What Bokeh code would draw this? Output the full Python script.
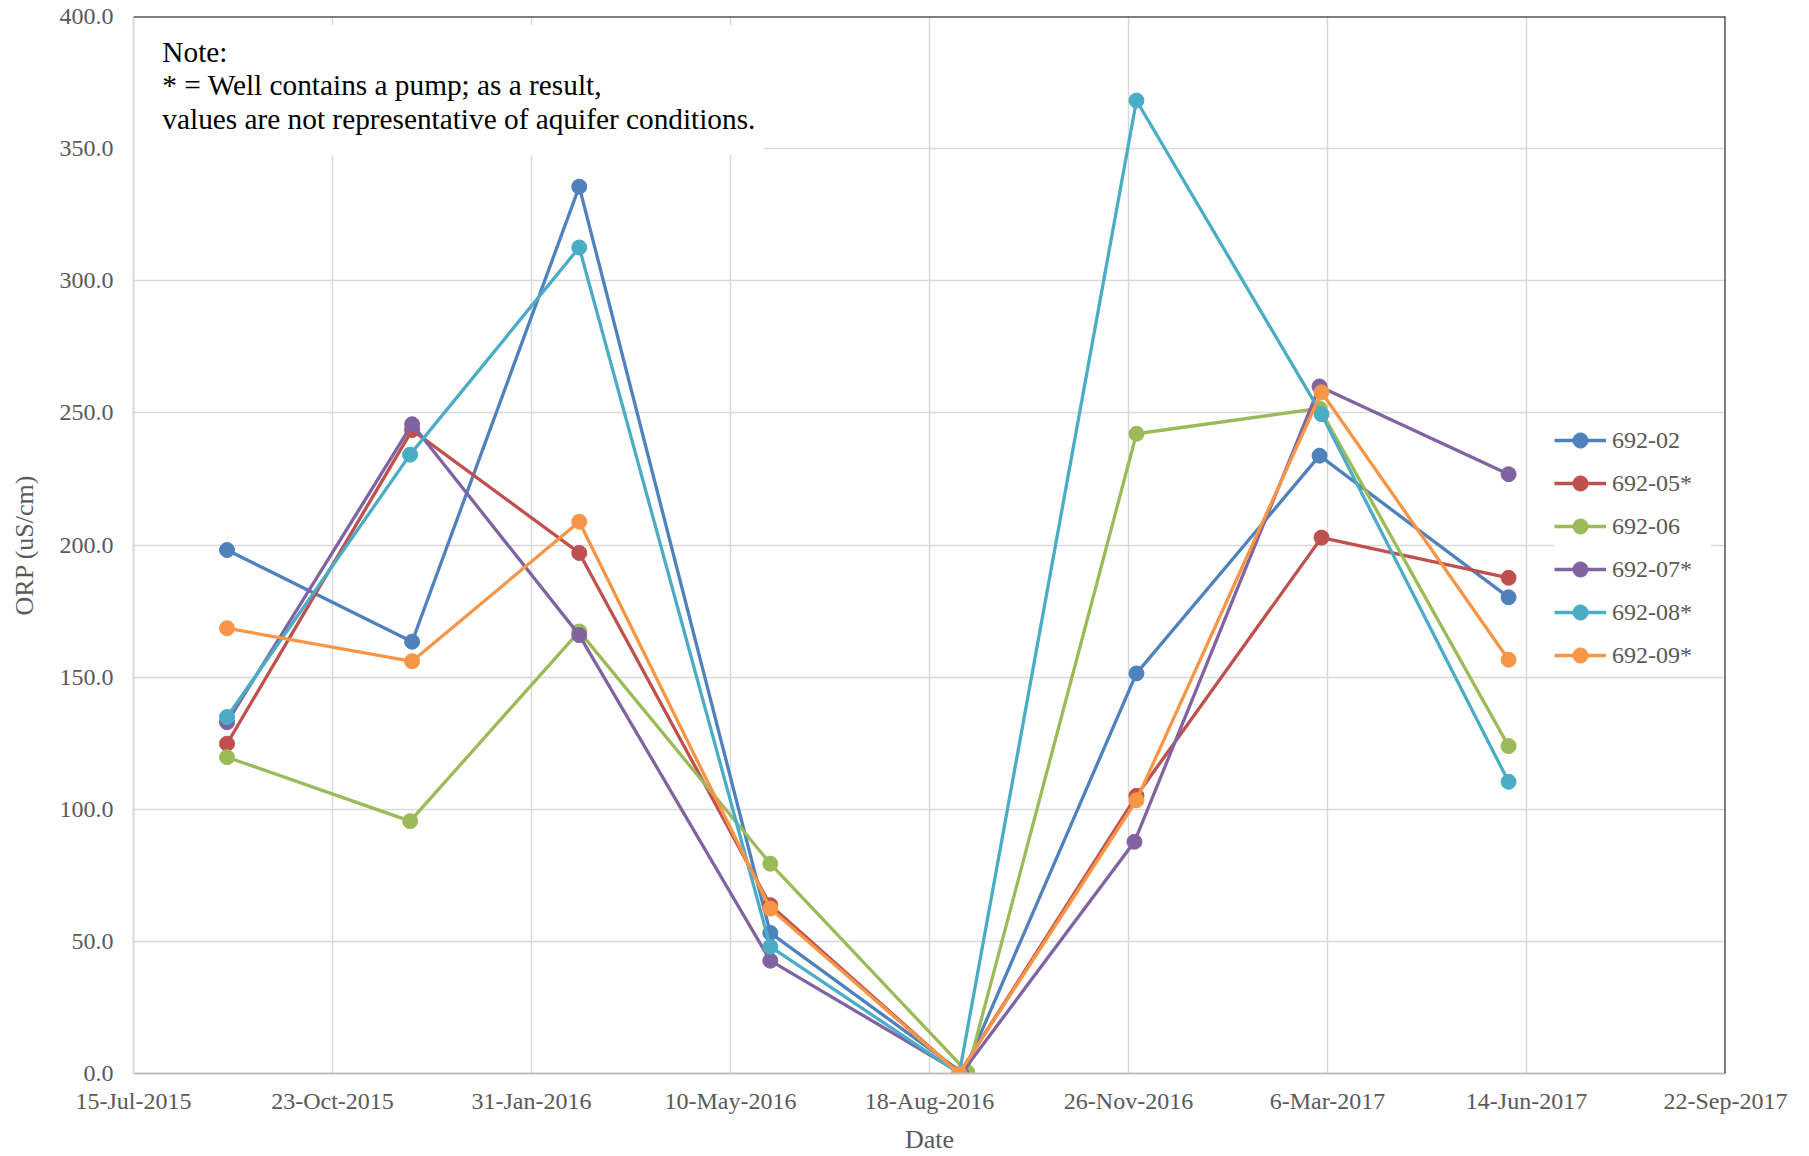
import pandas as pd
from bokeh.plotting import figure
from bokeh.models import (Range1d, FixedTicker, CustomJSTickFormatter, NumeralTickFormatter,
                          Legend, LegendItem, BoxAnnotation, Label, Span)
from bokeh.embed import file_html
from bokeh.resources import INLINE

# ---------------- data ----------------
series_names = ["692-02", "692-05*", "692-06", "692-07*", "692-08*", "692-09*"]
colors = ["#4F81BD", "#C0504D", "#9BBB59", "#8064A2", "#4BACC6", "#F79646"]

dates_02 = ["2015-08-31", "2015-12-02", "2016-02-24", "2016-05-30", "2016-09-04", "2016-11-30", "2017-03-02", "2017-06-05"]
dates_05 = ["2015-08-31", "2015-12-02", "2016-02-24", "2016-05-30", "2016-09-02", "2016-11-30", "2017-03-03", "2017-06-05"]
dates_06 = ["2015-08-31", "2015-12-01", "2016-02-24", "2016-05-30", "2016-09-06", "2016-11-30", "2017-03-02", "2017-06-05"]
dates_07 = ["2015-08-31", "2015-12-02", "2016-02-24", "2016-05-30", "2016-09-03", "2016-11-29", "2017-03-02", "2017-06-05"]
dates_08 = ["2015-08-31", "2015-12-01", "2016-02-24", "2016-05-30", "2016-09-02", "2016-11-30", "2017-03-03", "2017-06-05"]
dates_09 = ["2015-08-31", "2015-12-02", "2016-02-24", "2016-05-30", "2016-09-02", "2016-11-30", "2017-03-03", "2017-06-05"]

orp_02 = [198.1, 163.4, 335.6, 53.2, 0.0, 151.4, 233.8, 180.2]
orp_05 = [124.8, 243.5, 197.0, 63.7, 0.0, 105.1, 202.8, 187.6]
orp_06 = [119.7, 95.5, 167.3, 79.4, 0.5, 242.1, 251.7, 123.9]
orp_07 = [132.9, 245.7, 165.9, 42.7, 0.0, 87.7, 260.0, 226.8]
orp_08 = [134.9, 234.2, 312.6, 48.0, 0.0, 368.2, 249.5, 110.4]
orp_09 = [168.5, 156.0, 208.8, 62.4, 0.0, 103.4, 257.8, 156.6]

tick_dates = ["2015-07-15", "2015-10-23", "2016-01-31", "2016-05-10", "2016-08-18",
              "2016-11-26", "2017-03-06", "2017-06-14", "2017-09-22"]
y_ticks = [0, 50, 100, 150, 200, 250, 300, 350, 400]

note_lines = ["Note:",
              "* = Well contains a pump; as a result,",
              "values are not representative of aquifer conditions."]

all_dates = [dates_02, dates_05, dates_06, dates_07, dates_08, dates_09]
all_vals = [orp_02, orp_05, orp_06, orp_07, orp_08, orp_09]

# ---------------- figure ----------------
FONT = "Liberation Serif"
GRAY_TXT = "#595959"

x_start = pd.Timestamp(tick_dates[0])
x_end = pd.Timestamp(tick_dates[-1])

p = figure(width=1809, height=1156, x_axis_type="datetime",
           x_range=Range1d(x_start, x_end), y_range=Range1d(0, 400),
           output_backend="svg", toolbar_location=None,
           min_border_left=133, min_border_right=84, min_border_top=16, min_border_bottom=82)
p.outline_line_color = None
p.background_fill_color = "white"
p.border_fill_color = "white"

tick_ms = [pd.Timestamp(d).value / 1e6 for d in tick_dates]
p.xaxis.ticker = FixedTicker(ticks=tick_ms)
p.xaxis.formatter = CustomJSTickFormatter(code="""
const d = new Date(tick);
const m = ["Jan","Feb","Mar","Apr","May","Jun","Jul","Aug","Sep","Oct","Nov","Dec"][d.getUTCMonth()];
return d.getUTCDate() + "-" + m + "-" + d.getUTCFullYear();
""")
p.yaxis.ticker = FixedTicker(ticks=y_ticks)
p.yaxis.formatter = NumeralTickFormatter(format="0.0")

for ax in (p.xaxis, p.yaxis):
    ax.major_label_text_font = FONT
    ax.major_label_text_font_size = "24px"
    ax.major_label_text_color = GRAY_TXT
    ax.axis_label_text_font = FONT
    ax.axis_label_text_font_size = "26px"
    ax.axis_label_text_font_style = "normal"
    ax.axis_label_text_color = GRAY_TXT
    ax.major_tick_line_color = None
    ax.minor_tick_line_color = None
    ax.major_tick_out = 0
    ax.major_tick_in = 0

p.xaxis.axis_label = "Date"
p.yaxis.axis_label = "ORP (uS/cm)"
p.xaxis.axis_line_color = "#bfbfbf"
p.xaxis.axis_line_width = 2
p.yaxis.axis_line_color = "#d9d9d9"
p.yaxis.axis_line_width = 2
p.xaxis.major_label_standoff = 14
p.xaxis.axis_label_standoff = 8
p.yaxis.major_label_standoff = 20
p.yaxis.axis_label_standoff = 18

p.xgrid.grid_line_color = "#d9d9d9"
p.ygrid.grid_line_color = "#d9d9d9"
p.xgrid.grid_line_width = 1.5
p.ygrid.grid_line_width = 1.5

# top and right border
p.add_layout(Span(location=400, dimension="width", line_color="black", line_width=2))
p.add_layout(Span(location=tick_ms[-1], dimension="height", line_color="black", line_width=2))

# ---------------- series ----------------
items = []
for name, col, ds, vs in zip(series_names, colors, all_dates, all_vals):
    xs = pd.to_datetime(ds)
    r1 = p.line(xs, vs, line_color=col, line_width=3.3, line_join="round")
    r2 = p.scatter(xs, vs, marker="circle", size=15, fill_color=col, line_color=col)
    items.append(LegendItem(label=name, renderers=[r1, r2]))

legend = Legend(items=items, location=(1421, 399), margin=0, padding=10,
                glyph_width=52, glyph_height=38, label_height=38, label_width=99, spacing=5,
                label_standoff=6, label_text_font=FONT, label_text_font_size="24px",
                label_text_color=GRAY_TXT, border_line_color=None,
                background_fill_color="white", background_fill_alpha=1.0)
p.add_layout(legend)

# ---------------- note box ----------------
day = pd.Timedelta(days=1)
box_right = x_start + 316.6 * day
p.add_layout(BoxAnnotation(left=x_start, right=box_right, bottom=347.6, top=396.7,
                           fill_color="white", fill_alpha=1.0, line_color=None, level="glyph"))
note_x = x_start + 14.5 * day
for txt, yv in zip(note_lines, [386.5, 373.9, 361.3]):
    p.add_layout(Label(x=note_x, y=yv, text=txt, text_font=FONT, text_font_size="29.3px",
                       text_color="black", text_baseline="middle", text_align="left"))

open("out.html", "w").write(file_html(p, INLINE))
